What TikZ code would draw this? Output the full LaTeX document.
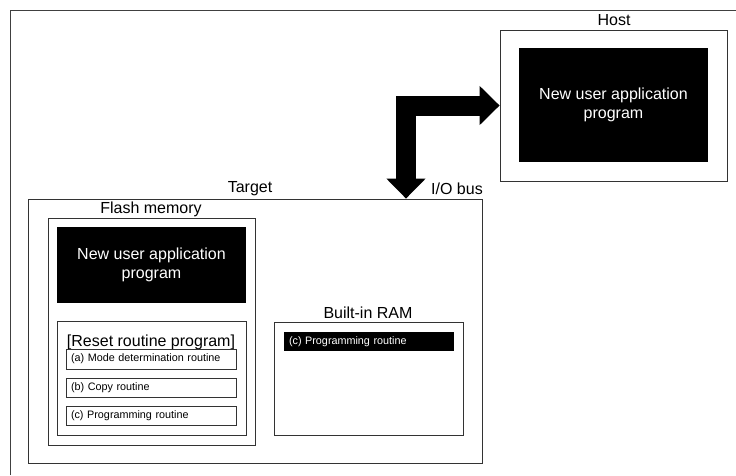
\documentclass[tikz,border=0pt]{standalone}
\usepackage{fontspec}
\setmainfont{Liberation Sans}
\usetikzlibrary{arrows.meta}
\newcommand{\bigtxt}{\fontsize{16}{19}\selectfont}
\newcommand{\smalltxt}{\fontsize{10.8}{13}\selectfont}
\tikzset{
	box/.style={draw=black!80, line width=0.8pt, fill=white, inner sep=0pt},
	progbox/.style={fill=black, text=white, align=center, font=\bigtxt, inner sep=0pt},
	routbox/.style={draw=black!80, line width=0.7pt, text width=160pt, inner xsep=5pt, inner ysep=0pt, align=left, font=\smalltxt},
	title/.style={font=\bigtxt, inner sep=0pt},
	bus/.style={line width=20pt, line join=miter, {Triangle[width=38pt,length=20pt]}-{Triangle[width=38pt,length=20pt]}}
}
\begin{document}
\begin{tikzpicture}[x=1pt,y=-1pt]
	\useasboundingbox (0,0) rectangle (736,475);
	\draw[black!75, line width=1pt] (10,475) -- (10,10.5) -- (736,10.5);
	% host side
	\node (host) at (613.5,105.5) [box, minimum width=227pt, minimum height=151pt] {};
	\node (hostprog) at (613.5,105) [progbox, minimum width=189pt, minimum height=114pt] {New user application\\program};
	\node (hostlbl) at (614,20) [title] {Host};
	% target side
	\node (target) at (255,331) [box, minimum width=454pt, minimum height=264pt] {};
	\node (targetlbl) at (250,189) [title] {Target};
	\node (buslbl) at (457,189) [title] {I/O bus};
	\node (flash) at (151.5,331.5) [box, minimum width=207pt, minimum height=227pt] {};
	\node (flashlbl) at (151,209) [title] {Flash memory};
	\node (flashprog) at (151.5,265) [progbox, minimum width=189pt, minimum height=76pt] {New user application\\program};
	\node (reset) at (151.5,378) [box, minimum width=189pt, minimum height=114pt] {};
	\node (resetlbl) at (151,342) [title] {[Reset routine program]};
	\node (mode) at (151,359) [routbox, minimum height=20pt] {(a) Mode determination routine};
	\node (copy) at (151,387.5) [routbox, minimum height=19pt] {(b) Copy routine};
	\node (prog) at (151,415.5) [routbox, minimum height=19pt] {(c) Programming routine};
	\node (ram) at (368.5,378.5) [box, minimum width=189pt, minimum height=113pt] {};
	\node (ramlbl) at (368,313) [title] {Built-in RAM};
	\node (ramprog) at (369,341.5) [routbox, draw=none, fill=black, text=white, minimum height=19pt] {(c) Programming routine};
	% I/O bus
	\coordinate (bend) at (406,106.5);
	\draw[bus] (target.north -| bend) |- (host.west);
\end{tikzpicture}
\end{document}
